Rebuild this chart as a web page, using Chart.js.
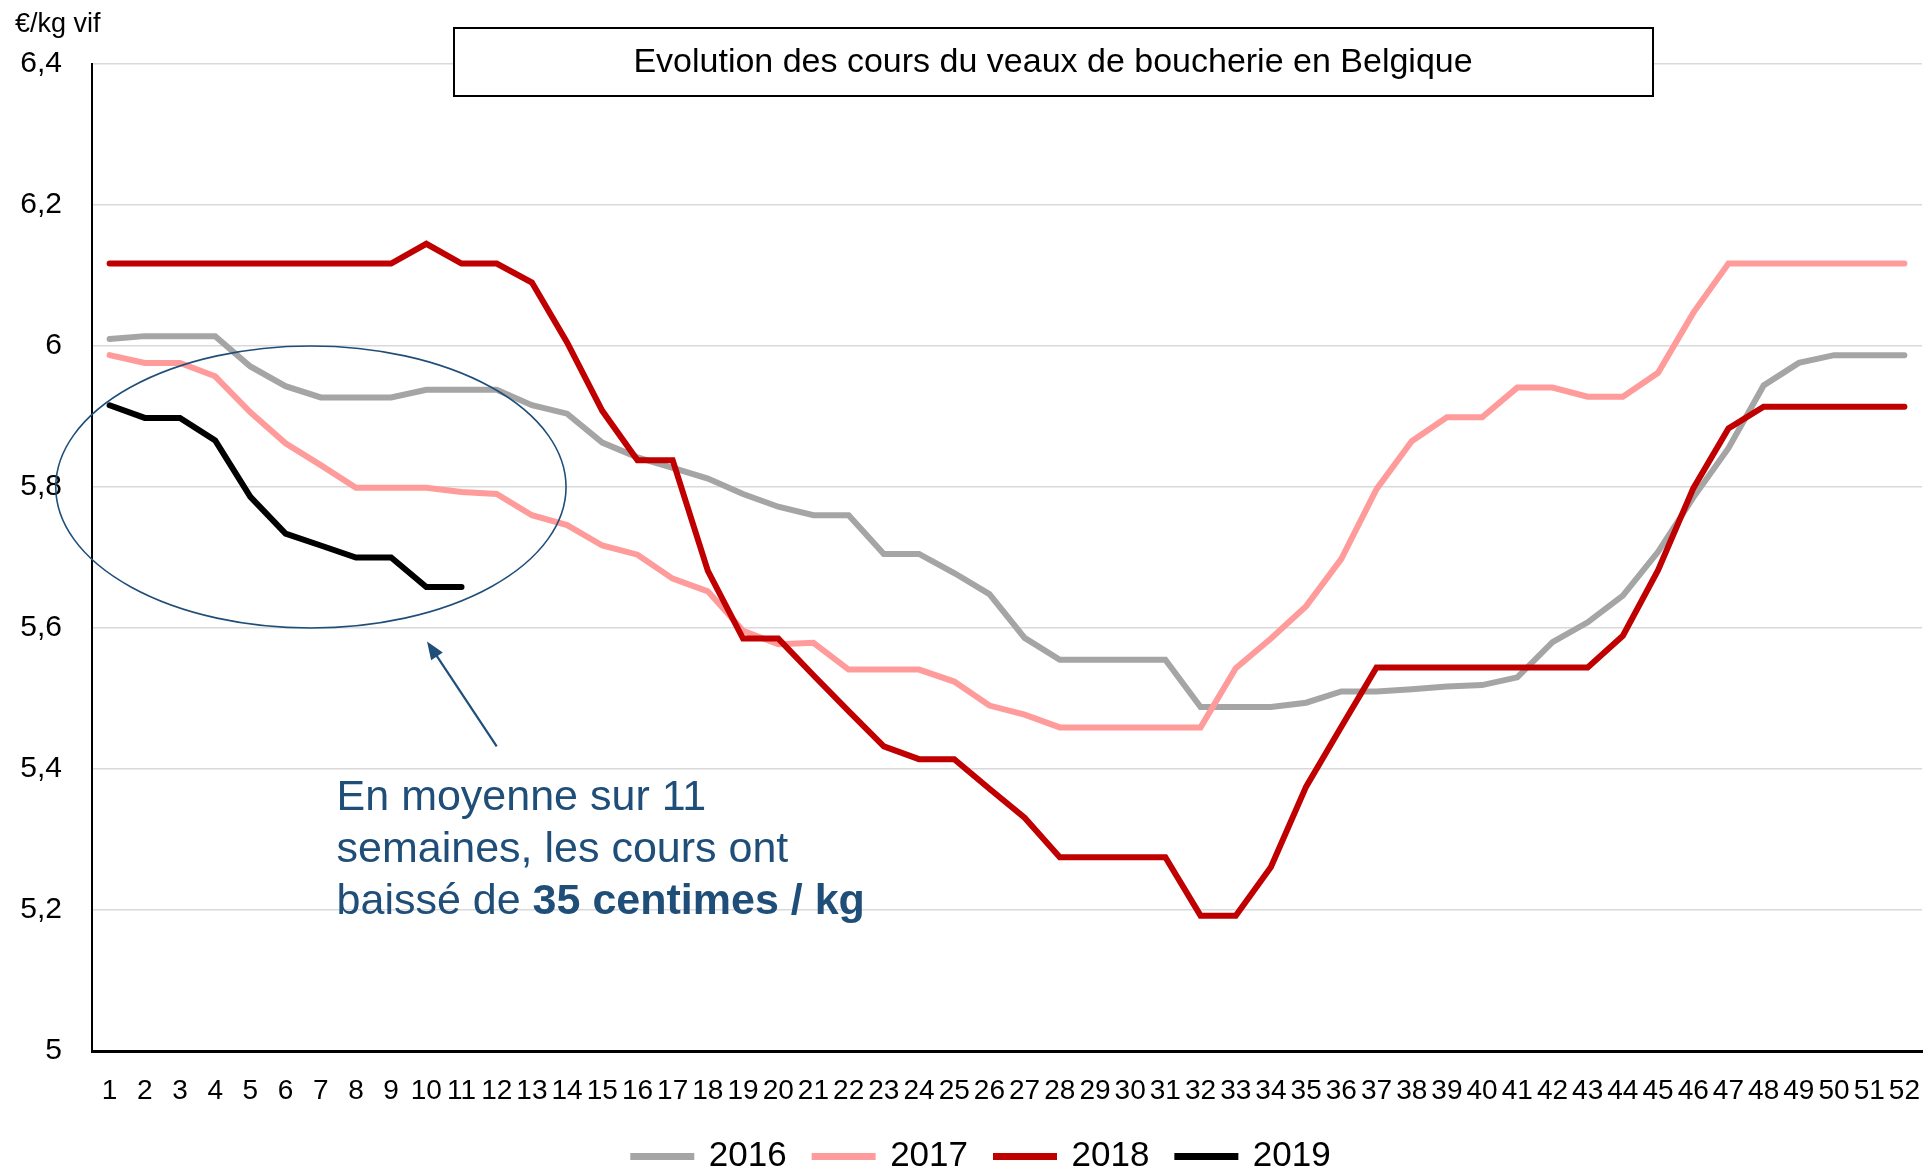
<!DOCTYPE html>
<html>
<head>
<meta charset="utf-8">
<title>Veaux de boucherie - Belgique</title>
<script src="https://cdn.jsdelivr.net/npm/chart.js"></script>
<style>
  html, body { margin: 0; padding: 0; background: #fff; }
  #wrap { width: 1926px; height: 1169px; position: relative; }
</style>
</head>
<body>
<div id="wrap"><canvas id="coursChart"></canvas></div>
<script>
const weeks = ["1","2","3","4","5","6","7","8","9","10","11","12","13","14","15","16","17","18","19","20","21","22","23","24","25","26",
  "27","28","29","30","31","32","33","34","35","36","37","38","39","40","41","42","43","44","45","46","47","48","49","50","51","52"];

const cours2016 = [6.010, 6.014, 6.014, 6.014, 5.971, 5.943, 5.927, 5.927, 5.927, 5.938, 5.938, 5.938, 5.916,
  5.904, 5.863, 5.842, 5.827, 5.812, 5.790, 5.772, 5.760, 5.760, 5.705, 5.705, 5.678, 5.648,
  5.586, 5.555, 5.555, 5.555, 5.555, 5.488, 5.488, 5.488, 5.494, 5.510, 5.510, 5.513, 5.517,
  5.519, 5.530, 5.580, 5.608, 5.646, 5.708, 5.785, 5.855, 5.944, 5.976, 5.987, 5.987, 5.987];

const cours2017 = [5.987, 5.976, 5.976, 5.957, 5.906, 5.862, 5.831, 5.799, 5.799, 5.799, 5.793, 5.790, 5.760,
  5.746, 5.717, 5.704, 5.670, 5.652, 5.596, 5.577, 5.579, 5.541, 5.541, 5.541, 5.524, 5.490,
  5.477, 5.459, 5.459, 5.459, 5.459, 5.459, 5.543, 5.585, 5.631, 5.698, 5.797, 5.865, 5.899,
  5.899, 5.941, 5.941, 5.928, 5.928, 5.962, 6.047, 6.117, 6.117, 6.117, 6.117, 6.117, 6.117];

const cours2018 = [6.117, 6.117, 6.117, 6.117, 6.117, 6.117, 6.117, 6.117, 6.117, 6.145, 6.117, 6.117, 6.090,
  6.005, 5.908, 5.838, 5.838, 5.681, 5.585, 5.585, 5.533, 5.482, 5.432, 5.414, 5.414, 5.372,
  5.331, 5.275, 5.275, 5.275, 5.275, 5.192, 5.192, 5.261, 5.375, 5.460, 5.544, 5.544, 5.544,
  5.544, 5.544, 5.544, 5.544, 5.589, 5.682, 5.798, 5.883, 5.914, 5.914, 5.914, 5.914, 5.914];

const cours2019 = [5.916, 5.898, 5.898, 5.866, 5.786, 5.734, 5.717, 5.700, 5.700, 5.658, 5.658];

const yTicks = [5, 5.2, 5.4, 5.6, 5.8, 6, 6.2, 6.4];

const FONT = '"Liberation Sans", Arial, sans-serif';
const BLUE = "#1F4E79";

// titre encadré, unité, ellipse, flèche et commentaire
const decor = {
  id: "decor",
  afterLayout(chart) {
    // la légende est un peu décalée vers la droite dans l'original
    chart.legend.left += 21;
    chart.legend.right += 21;
  },
  afterDraw(chart) {
    const { ctx, scales: { x, y } } = chart;
    ctx.save();

    // unité
    ctx.fillStyle = "#000";
    ctx.font = "27px " + FONT;
    ctx.textAlign = "left";
    ctx.textBaseline = "middle";
    ctx.fillText("€/kg vif", 15, 25);

    // titre
    ctx.fillStyle = "#fff";
    ctx.fillRect(454, 28, 1199, 68);
    ctx.strokeStyle = "#000";
    ctx.lineWidth = 2;
    ctx.strokeRect(454, 28, 1199, 68);
    ctx.fillStyle = "#000";
    ctx.font = "34px " + FONT;
    ctx.textAlign = "center";
    ctx.fillText("Evolution des cours du veaux de boucherie en Belgique", 1053, 63);

    // ellipse autour de 2019
    const cx = x.getPixelForValue(5.72), cy = y.getPixelForValue(5.8);
    const rx = x.getPixelForValue(5.72 + 7.25) - cx;
    const ry = cy - y.getPixelForValue(6.0);
    ctx.strokeStyle = BLUE;
    ctx.lineWidth = 1.6;
    ctx.beginPath();
    ctx.ellipse(cx, cy, rx, ry, 0, 0, Math.PI * 2);
    ctx.stroke();

    // flèche
    const x0 = x.getPixelForValue(11.0), y0 = y.getPixelForValue(5.432);
    const x1 = x.getPixelForValue(9.02), y1 = y.getPixelForValue(5.581);
    const ang = Math.atan2(y1 - y0, x1 - x0);
    ctx.lineWidth = 2.2;
    ctx.beginPath();
    ctx.moveTo(x0, y0);
    ctx.lineTo(x1 - 10 * Math.cos(ang), y1 - 10 * Math.sin(ang));
    ctx.stroke();
    ctx.fillStyle = BLUE;
    ctx.beginPath();
    ctx.moveTo(x1, y1);
    ctx.lineTo(x1 - 18 * Math.cos(ang) + 7 * Math.sin(ang), y1 - 18 * Math.sin(ang) - 7 * Math.cos(ang));
    ctx.lineTo(x1 - 18 * Math.cos(ang) - 7 * Math.sin(ang), y1 - 18 * Math.sin(ang) + 7 * Math.cos(ang));
    ctx.closePath();
    ctx.fill();

    // commentaire
    const tx = x.getPixelForValue(6.45);
    const ty = y.getPixelForValue(5.358);
    ctx.textAlign = "left";
    ctx.textBaseline = "middle";
    ctx.font = "43px " + FONT;
    ctx.fillText("En moyenne sur 11", tx, ty);
    ctx.fillText("semaines, les cours ont", tx, ty + 52);
    const pre = "baissé de ";
    ctx.fillText(pre, tx, ty + 104);
    const w = ctx.measureText(pre).width;
    ctx.font = "bold 43px " + FONT;
    ctx.fillText("35 centimes / kg", tx + w, ty + 104);

    ctx.restore();
  }
};

function serie(label, data, color, order) {
  return {
    label: label,
    data: data,
    borderColor: color,
    backgroundColor: color,
    borderWidth: 6,
    borderCapStyle: "round",
    borderJoinStyle: "miter",
    pointRadius: 0,
    pointHoverRadius: 0,
    tension: 0,
    fill: false,
    order: order
  };
}

const ctx = document.getElementById("coursChart").getContext("2d");
const myChart = new Chart(ctx, {
  type: "line",
  data: {
    labels: weeks,
    datasets: [
      serie("2016", cours2016, "#A5A5A5", 4),
      serie("2017", cours2017, "#FF9B9B", 3),
      serie("2018", cours2018, "#C00000", 2),
      serie("2019", cours2019, "#000000", 1)
    ]
  },
  options: {
    responsive: true,
    maintainAspectRatio: false,
    animation: false,
    layout: {
      padding: { left: 0, right: 4, top: 64, bottom: -15 }
    },
    plugins: {
      title: { display: false },
      tooltip: { enabled: false },
      legend: {
        position: "bottom",
        labels: {
          color: "#000",
          font: { family: FONT, size: 35 },
          boxWidth: 58,
          boxHeight: 1,
          padding: 28,
          sort: (a, b) => a.datasetIndex - b.datasetIndex
        }
      }
    },
    scales: {
      x: {
        offset: true,
        grid: {
          display: true,
          drawOnChartArea: false,
          drawTicks: true,
          tickLength: 22,
          tickColor: "rgba(0,0,0,0)",
          color: "rgba(0,0,0,0)"
        },
        border: { color: "#000", width: 3 },
        ticks: {
          color: "#000",
          font: { family: FONT, size: 28 },
          autoSkip: false,
          maxRotation: 0,
          minRotation: 0,
          padding: 1
        },
        afterFit(scale) { scale.height = 60; }
      },
      y: {
        min: 5,
        max: 6.4,
        grid: { color: "#D9D9D9", lineWidth: 1.5, drawTicks: false },
        border: { color: "#000", width: 2 },
        afterBuildTicks(scale) {
          scale.ticks = yTicks.map(v => ({ value: v }));
        },
        ticks: {
          color: "#000",
          font: { family: FONT, size: 30 },
          padding: 30,
          callback: v => String(Math.round(v * 10) / 10).replace(".", ",")
        },
        afterFit(scale) { scale.width = 92; }
      }
    }
  },
  plugins: [decor]
});
</script>
</body>
</html>
